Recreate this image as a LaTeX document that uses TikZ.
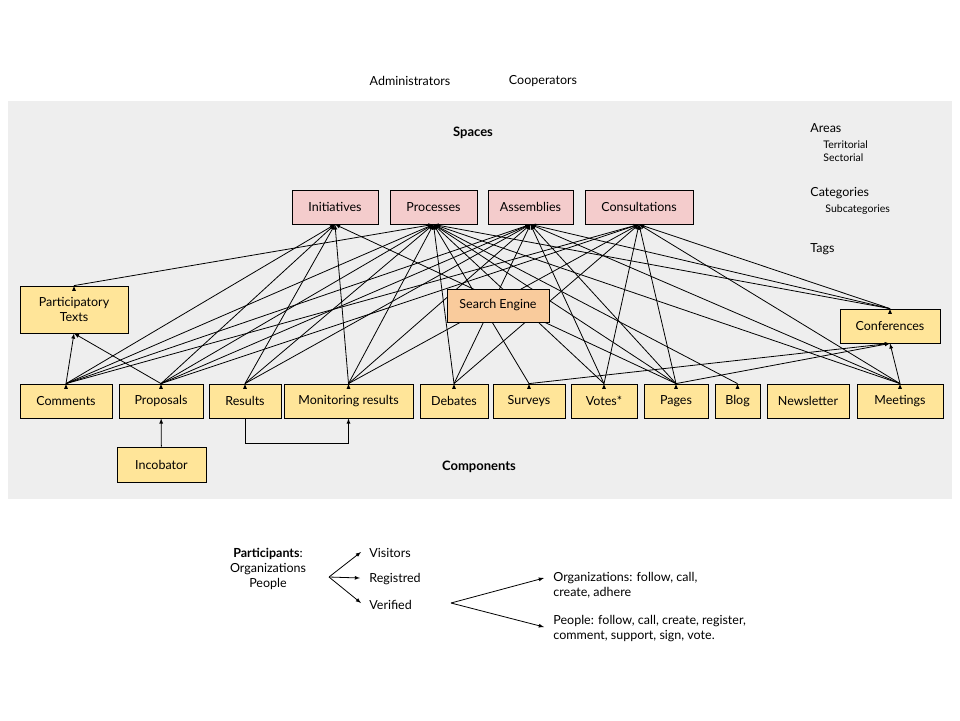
\documentclass[tikz,border=0pt]{standalone}
\usepackage{fontspec}
\setmainfont{Lato}
\usetikzlibrary{positioning}
\definecolor{bggray}{HTML}{EEEEEE}
\definecolor{spacepink}{HTML}{F4CCCC}
\definecolor{compyellow}{HTML}{FFE599}
\definecolor{engineorange}{HTML}{F9CB9C}
\begin{document}
\begin{tikzpicture}[x=1pt, y=-1pt, line width=0.8pt,
        space/.style={rectangle, draw, fill=spacepink, minimum height=34pt, inner sep=0pt, font=\fontsize{12.5}{15}\selectfont},
        comp/.style={rectangle, draw, fill=compyellow, minimum height=34pt, inner sep=0pt, align=center, font=\fontsize{12.5}{15}\selectfont},
        plain/.style={inner sep=0pt, font=\fontsize{12.5}{15}\selectfont},
        small/.style={inner sep=0pt, anchor=west, font=\fontsize{10.5}{13}\selectfont},
        link/.style={-latex}]
                \useasboundingbox (0,0) rectangle (960,720);
                \fill[bggray] (8,101) rectangle (952,499);

                % Roles
                \node[plain] at (410, 81) (admins) {Administrators};
                \node[plain] at (543, 81) (coops) {Cooperators};

                % Spaces
                \node[plain, font=\bfseries\fontsize{13}{15}\selectfont] at (473, 133) (spaces) {Spaces};
                \node[space, minimum width=86pt] at (335, 207) (init) {Initiatives};
                \node[space, minimum width=87pt] at (433.5, 207) (proc) {Processes};
                \node[space, minimum width=85pt] at (530.5, 207) (asm) {Assemblies};
                \node[space, minimum width=108pt] at (639, 207) (cons) {Consultations};

                % Areas, categories and tags
                \node[plain, anchor=west] at (810, 128) (areas) {Areas};
                \node[small] at (823, 145) (terr) {Territorial};
                \node[small] at (823, 158) (sect) {Sectorial};
                \node[plain, anchor=west] at (810, 193) (cats) {Categories};
                \node[small] at (825, 210) (subcats) {Subcategories};
                \node[plain, anchor=west] at (810, 249) (tags) {Tags};

                % Components
                \node[comp, minimum width=108pt, minimum height=47pt] at (74, 309.5) (pt) {Participatory\\Texts};
                \node[comp, minimum width=100pt] at (890, 326) (conf) {Conferences};
                \node[comp, minimum width=92pt] at (66, 401) (com) {Comments};
                \node[comp, minimum width=84pt] at (161, 401) (prop) {Proposals};
                \node[comp, minimum width=72pt] at (245, 401) (res) {Results};
                \node[comp, minimum width=129pt] at (348.5, 401) (mon) {Monitoring results};
                \node[comp, minimum width=68pt] at (454, 401) (deb) {Debates};
                \node[comp, minimum width=72pt] at (529, 401) (sur) {Surveys};
                \node[comp, minimum width=66pt] at (604, 401) (vot) {Votes*};
                \node[comp, minimum width=64pt] at (676, 401) (pag) {Pages};
                \node[comp, minimum width=45pt] at (737.5, 401) (blog) {Blog};
                \node[comp, minimum width=82pt] at (808, 401) (news) {Newsletter};
                \node[comp, minimum width=86pt] at (900, 401) (meet) {Meetings};
                \node[comp, minimum width=89pt, minimum height=35pt] at (161.5, 464.5) (inc) {Incobator};
                \node[plain, font=\bfseries\fontsize{13}{15}\selectfont] at (479, 467) (components) {Components};

                % Links
                \draw[link] (pt.north) edge (proc.south);
                \draw[link] (com.north) edge (pt.south) edge (init.south) edge (proc.south) edge (asm.south) edge (cons.south);
                \draw[link] (prop.north) edge (pt.south) edge (init.south) edge (proc.south) edge (asm.south) edge (cons.south);
                \draw[link] (res.north) edge (init.south) edge (proc.south) edge (asm.south);
                \draw[link] (mon.north) edge (init.south) edge (proc.south) edge (asm.south) edge (cons.south);
                \draw[link] (deb.north) edge (proc.south) edge (asm.south) edge (cons.south);
                \draw[link] (sur.north) edge (proc.south) edge (conf.south);
                \draw[link] (vot.north) edge (proc.south) edge (asm.south) edge (cons.south);
                \draw[link] (pag.north) edge (init.south) edge (proc.south) edge (asm.south) edge (cons.south) edge (conf.south);
                \draw[link] (blog.north) edge (proc.south);
                \draw[link] (meet.north) edge (conf.south) edge (proc.south) edge (asm.south) edge (cons.south);
                \draw[link] (conf.north) edge (proc.south) edge (asm.south) edge (cons.south);
                \draw[link] (inc) -- (prop);
                \draw[link] (res.south) -- ++(0, 25) -| (mon.south);

                % Search engine sits on top of the links
                \node[space, fill=engineorange, minimum width=102pt, minimum height=33pt] at (498, 305.5) (se) {Search Engine};

                % Participants
                \node[plain, align=center] at (268, 569) (parts) {\textbf{Participants}:\\Organizations\\People};
                \coordinate (fork) at (329, 577);
                \node[plain, anchor=west] at (369, 553) (visit) {Visitors};
                \node[plain, anchor=west] at (369, 579) (reg) {Registred};
                \node[plain, anchor=west] at (369, 605) (verif) {Verified};
                \draw[link] (fork) -- (361, 552);
                \draw[link] (fork) -- (360, 578);
                \draw[link] (fork) -- (361, 603);
                \coordinate (fork2) at (451, 603);
                \node[plain, anchor=north west, align=left] at (553, 572) (orgs) {Organizations: follow, call,\\create, adhere};
                \node[plain, anchor=north west, align=left] at (553, 615) (people) {People: follow, call, create, register,\\comment, support, sign, vote.};
                \draw[link] (fork2) -- (544, 578);
                \draw[link] (fork2) -- (544, 627);

            \end{tikzpicture}
\end{document}
